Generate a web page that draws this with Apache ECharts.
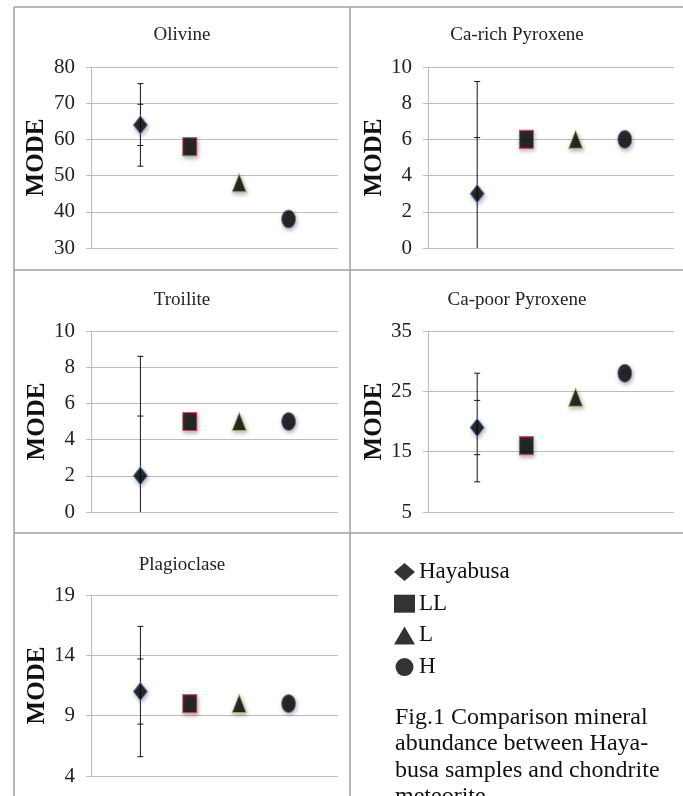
<!DOCTYPE html>
<html>
<head>
<meta charset="utf-8">
<script src="https://cdn.jsdelivr.net/npm/echarts@6/dist/echarts.min.js"></script>
<style>
html,body{margin:0;padding:0;background:#fff;}
#chart{width:683px;height:796px;}
</style>
</head>
<body>
<div id="chart"></div>
<script>
// ---- data ----
const minerals = ['Olivine', 'Ca-rich Pyroxene', 'Troilite', 'Ca-poor Pyroxene', 'Plagioclase'];
const seriesNames = ['Hayabusa', 'LL', 'L', 'H'];
const hayabusa = [64, 3, 2, 19, 11];
const hayabusaErr1 = [5.7, 3.1, 3.3, 4.5, 2.7];
const hayabusaErr2 = [11.4, 6.2, 6.6, 9.0, 5.4];
const llValues = [58, 6, 5, 16, 10];
const lValues = [48, 6, 5, 24, 10];
const hValues = [38, 6, 5, 28, 10];
const xPositions = [1, 2, 3, 4];
const yMins = [30, 0, 0, 5, 4];
const yMaxs = [80, 10, 10, 35, 19];
const yIntervals = [10, 2, 2, 10, 5];
const yAxisName = 'MODE';
const captionText = 'Fig.1 Comparison mineral\nabundance between Haya-\nbusa samples and chondrite\nmeteorite';

// ---- styles ----
const symbols = ['diamond', 'rect', 'triangle', 'circle'];
const borderColors = ['#4f81bd', '#c0504d', '#9bbb59', '#8064a2'];
const gridPos = [
  {left: 91, top: 67}, {left: 428, top: 67},
  {left: 91, top: 331}, {left: 428, top: 331},
  {left: 91, top: 595}
];
const titlePos = [[177, 21], [512, 21], [177, 286], [512, 286], [177, 551]];
const nameGaps = [42, 39, 37, 39, 37];
const serif = '"Liberation Serif", "Times New Roman", serif';
const valuesBySeries = [hayabusa, llValues, lValues, hValues];

const chart = echarts.init(document.getElementById('chart'), null, {renderer: 'canvas'});

function makeErrRender(yMin, yMax) {
  return function (params, api) {
    const x = api.value(0), y = api.value(1), e1 = api.value(2), e2 = api.value(3);
    const lo = Math.max(y - e2, yMin), hi = Math.min(y + e2, yMax);
    const p1 = api.coord([x, lo]), p2 = api.coord([x, hi]);
    const style = {stroke: '#111', lineWidth: 1};
    const children = [{type: 'line', shape: {x1: p1[0], y1: p1[1], x2: p2[0], y2: p2[1]}, style: style}];
    [y - e2, y - e1, y + e1, y + e2].forEach(v => {
      if (v >= yMin && v <= yMax) {
        const c = api.coord([x, v]);
        children.push({type: 'line', shape: {x1: c[0] - 3, y1: c[1], x2: c[0] + 3, y2: c[1]}, style: style});
      }
    });
    return {type: 'group', children: children};
  };
}

const grids = [], xAxes = [], yAxes = [], titles = [], series = [];
minerals.forEach((m, i) => {
  grids.push({left: gridPos[i].left, top: gridPos[i].top, width: i % 2 === 0 ? 247 : 246, height: 181});
  xAxes.push({type: 'value', gridIndex: i, min: 0, max: 5, show: false});
  yAxes.push({
    type: 'value', gridIndex: i, min: yMins[i], max: yMaxs[i], interval: yIntervals[i],
    name: yAxisName, nameLocation: 'middle', nameGap: nameGaps[i], nameRotate: 90,
    nameTextStyle: {fontFamily: serif, fontWeight: 'bold', fontSize: 25, color: '#111'},
    axisLine: {show: true, lineStyle: {color: '#bdbdbd', width: 1}},
    axisTick: {show: true, length: 5, lineStyle: {color: '#bdbdbd'}},
    axisLabel: {fontFamily: serif, fontSize: 21, color: '#222', margin: 16},
    splitLine: {show: true, lineStyle: {color: '#bdbdbd', width: 1}}
  });
  titles.push({
    text: m, left: titlePos[i][0], top: titlePos[i][1], textAlign: 'center',
    textStyle: {fontFamily: serif, fontSize: 19, fontWeight: 'normal', color: '#222'}
  });
  series.push({
    type: 'custom', xAxisIndex: i, yAxisIndex: i, z: 1, silent: true,
    renderItem: makeErrRender(yMins[i], yMaxs[i]),
    data: [[xPositions[0], hayabusa[i], hayabusaErr1[i], hayabusaErr2[i]]]
  });
  seriesNames.forEach((s, k) => {
    series.push({
      type: 'scatter', name: s, xAxisIndex: i, yAxisIndex: i, z: 3,
      symbol: symbols[k], symbolSize: [14, 18],
      itemStyle: {color: '#000', borderColor: borderColors[k], borderWidth: 1,
        shadowBlur: 4, shadowColor: 'rgba(0,0,0,0.35)', shadowOffsetX: 1, shadowOffsetY: 2},
      data: [[xPositions[k], valuesBySeries[k][i]]]
    });
  });
});

titles.push({
  text: captionText, left: 390, top: 699,
  textStyle: {fontFamily: serif, fontSize: 24, fontWeight: 'normal', color: '#111', lineHeight: 26.5}
});

const frameStyle = {stroke: '#a0a0a0', lineWidth: 1.5};
const option = {
  animation: false,
  backgroundColor: '#fff',
  title: titles,
  grid: grids,
  xAxis: xAxes,
  yAxis: yAxes,
  legend: {
    orient: 'vertical', left: 389, top: 555, itemWidth: 21, itemHeight: 18, itemGap: 7.7,
    textStyle: {fontFamily: serif, fontSize: 23, color: '#111', lineHeight: 24, padding: [0, 0, 0, -1]},
    data: seriesNames.map((s, k) => ({name: s, icon: symbols[k], itemStyle: {color: '#000', borderWidth: 0, shadowBlur: 0, shadowOffsetX: 0, shadowOffsetY: 0}}))
  },
  graphic: [
    {type: 'line', shape: {x1: 14, y1: 7, x2: 683, y2: 7}, style: frameStyle, silent: true},
    {type: 'line', shape: {x1: 14, y1: 7, x2: 14, y2: 796}, style: frameStyle, silent: true},
    {type: 'line', shape: {x1: 350, y1: 7, x2: 350, y2: 796}, style: frameStyle, silent: true},
    {type: 'line', shape: {x1: 14, y1: 270, x2: 683, y2: 270}, style: frameStyle, silent: true},
    {type: 'line', shape: {x1: 14, y1: 533, x2: 683, y2: 533}, style: frameStyle, silent: true}
  ],
  series: series
};
chart.setOption(option);
</script>
</body>
</html>
